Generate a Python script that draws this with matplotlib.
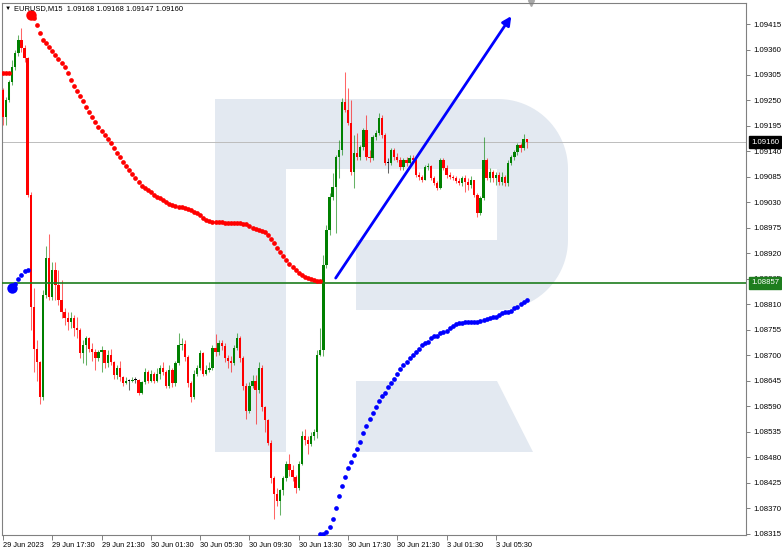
import numpy as np
import matplotlib
matplotlib.use("Agg")
import matplotlib.pyplot as plt
import matplotlib.transforms as mtransforms
from matplotlib.patches import Polygon

# ── data: EURUSD M15, one value per bar ─────────────────────────
open0 = 1.09273
closes = [
    1.09214, 1.09251, 1.09290, 1.09322, 1.09352, 1.09381, 1.09363, 1.09342, 1.09046, 1.08804,
    1.08715, 1.08685, 1.08610, 1.08830, 1.08910, 1.08826, 1.08884, 1.08851, 1.08819, 1.08793,
    1.08780, 1.08772, 1.08780, 1.08759, 1.08754, 1.08705, 1.08722, 1.08737, 1.08715, 1.08707,
    1.08694, 1.08707, 1.08711, 1.08683, 1.08700, 1.08685, 1.08657, 1.08672, 1.08653, 1.08640,
    1.08646, 1.08646, 1.08648, 1.08648, 1.08620, 1.08642, 1.08664, 1.08646, 1.08661, 1.08646,
    1.08661, 1.08674, 1.08664, 1.08635, 1.08668, 1.08640, 1.08683, 1.08722, 1.08724, 1.08696,
    1.08640, 1.08610, 1.08661, 1.08672, 1.08705, 1.08661, 1.08668, 1.08674, 1.08717, 1.08707,
    1.08726, 1.08720, 1.08694, 1.08689, 1.08683, 1.08717, 1.08737, 1.08694, 1.08635, 1.08581,
    1.08635, 1.08646, 1.08625, 1.08672, 1.08588, 1.08560, 1.08512, 1.08435, 1.08402, 1.08387,
    1.08409, 1.08435, 1.08467, 1.08452, 1.08437, 1.08415, 1.08467, 1.08527, 1.08517, 1.08510,
    1.08527, 1.08534, 1.08700, 1.08711, 1.08895, 1.08970, 1.09041, 1.09063, 1.09128, 1.09143,
    1.09247, 1.09229, 1.09201, 1.09095, 1.09137, 1.09128, 1.09149, 1.09186, 1.09128, 1.09126,
    1.09171, 1.09180, 1.09212, 1.09175, 1.09115, 1.09115, 1.09143, 1.09128, 1.09121, 1.09106,
    1.09121, 1.09115, 1.09126, 1.09121, 1.09089, 1.09085, 1.09078, 1.09106, 1.09108, 1.09082,
    1.09072, 1.09061, 1.09121, 1.09104, 1.09089, 1.09085, 1.09082, 1.09076, 1.09072, 1.09082,
    1.09074, 1.09067, 1.09078, 1.09046, 1.09007, 1.09039, 1.09121, 1.09082, 1.09095, 1.09082,
    1.09089, 1.09074, 1.09085, 1.09072, 1.09115, 1.09128, 1.09139, 1.09154, 1.09147, 1.09168,
    1.09160,
]
highs = [
    1.09277, 1.09257, 1.09294, 1.09337, 1.09359, 1.09391, 1.09406, 1.09370, 1.09344, 1.09052,
    1.08845, 1.08733, 1.08689, 1.08841, 1.08936, 1.08962, 1.08901, 1.08901, 1.08884, 1.08862,
    1.08802, 1.08793, 1.08793, 1.08787, 1.08784, 1.08759, 1.08733, 1.08743, 1.08739, 1.08726,
    1.08715, 1.08711, 1.08720, 1.08711, 1.08711, 1.08715, 1.08689, 1.08679, 1.08689, 1.08655,
    1.08653, 1.08650, 1.08653, 1.08653, 1.08650, 1.08646, 1.08672, 1.08668, 1.08668, 1.08664,
    1.08672, 1.08679, 1.08685, 1.08668, 1.08679, 1.08672, 1.08689, 1.08748, 1.08737, 1.08733,
    1.08700, 1.08646, 1.08668, 1.08679, 1.08711, 1.08707, 1.08679, 1.08685, 1.08722, 1.08746,
    1.08733, 1.08733, 1.08726, 1.08700, 1.08698, 1.08722, 1.08748, 1.08741, 1.08698, 1.08640,
    1.08642, 1.08657, 1.08657, 1.08685, 1.08679, 1.08592, 1.08564, 1.08517, 1.08441, 1.08415,
    1.08413, 1.08441, 1.08473, 1.08488, 1.08463, 1.08443, 1.08473, 1.08538, 1.08542, 1.08527,
    1.08534, 1.08542, 1.08711, 1.08759, 1.08916, 1.08981, 1.09050, 1.09093, 1.09132, 1.09165,
    1.09255, 1.09311, 1.09277, 1.09251, 1.09175, 1.09180, 1.09154, 1.09190, 1.09219, 1.09143,
    1.09175, 1.09186, 1.09223, 1.09219, 1.09180, 1.09126, 1.09147, 1.09147, 1.09137, 1.09128,
    1.09126, 1.09128, 1.09132, 1.09132, 1.09126, 1.09095, 1.09089, 1.09111, 1.09115, 1.09111,
    1.09087, 1.09076, 1.09126, 1.09126, 1.09111, 1.09095, 1.09089, 1.09087, 1.09082, 1.09087,
    1.09089, 1.09082, 1.09087, 1.09078, 1.09050, 1.09044, 1.09171, 1.09126, 1.09104, 1.09100,
    1.09095, 1.09095, 1.09095, 1.09089, 1.09121, 1.09132, 1.09143, 1.09158, 1.09158, 1.09178,
    1.09168,
]
lows = [
    1.09197, 1.09197, 1.09247, 1.09283, 1.09316, 1.09346, 1.09355, 1.09333, 1.09041, 1.08754,
    1.08664, 1.08646, 1.08596, 1.08603, 1.08823, 1.08819, 1.08819, 1.08819, 1.08808, 1.08780,
    1.08765, 1.08754, 1.08759, 1.08743, 1.08737, 1.08694, 1.08683, 1.08679, 1.08707, 1.08689,
    1.08668, 1.08689, 1.08664, 1.08672, 1.08676, 1.08679, 1.08650, 1.08650, 1.08646, 1.08635,
    1.08638, 1.08625, 1.08642, 1.08640, 1.08614, 1.08616, 1.08638, 1.08640, 1.08642, 1.08640,
    1.08642, 1.08650, 1.08657, 1.08629, 1.08629, 1.08633, 1.08635, 1.08679, 1.08711, 1.08689,
    1.08633, 1.08599, 1.08607, 1.08655, 1.08668, 1.08655, 1.08657, 1.08664, 1.08668, 1.08698,
    1.08702, 1.08711, 1.08685, 1.08672, 1.08664, 1.08679, 1.08711, 1.08685, 1.08625, 1.08564,
    1.08577, 1.08629, 1.08553, 1.08620, 1.08581, 1.08534, 1.08506, 1.08426, 1.08348, 1.08376,
    1.08355, 1.08398, 1.08430, 1.08441, 1.08430, 1.08404, 1.08409, 1.08463, 1.08506, 1.08488,
    1.08504, 1.08517, 1.08523, 1.08698, 1.08698, 1.08888, 1.08959, 1.09035, 1.08964, 1.09082,
    1.09132, 1.09225, 1.09197, 1.09089, 1.09061, 1.09121, 1.09121, 1.09143, 1.09121, 1.09117,
    1.09121, 1.09165, 1.09175, 1.09169, 1.09111, 1.09093, 1.09111, 1.09121, 1.09117, 1.09100,
    1.09100, 1.09108, 1.09111, 1.09115, 1.09085, 1.09078, 1.09074, 1.09078, 1.09100, 1.09078,
    1.09067, 1.09057, 1.09059, 1.09100, 1.09082, 1.09080, 1.09078, 1.09072, 1.09067, 1.09065,
    1.09052, 1.09057, 1.09061, 1.09041, 1.08998, 1.09003, 1.09035, 1.09078, 1.09074, 1.09074,
    1.09067, 1.09067, 1.09067, 1.09065, 1.09065, 1.09111, 1.09121, 1.09132, 1.09139, 1.09143,
    1.09147,
]

# indicator dots (red above price, blue below)
red_early = [1.09309, 1.09309, 1.09309]          # bars 0..2
red_start = 9
red_dots = [
    1.09435, 1.09428, 1.09413, 1.09396, 1.09381, 1.09374, 1.09365, 1.09357, 1.09348, 1.09340,
    1.09331, 1.09322, 1.09309, 1.09294, 1.09281, 1.09270, 1.09260, 1.09249, 1.09236, 1.09225,
    1.09214, 1.09203, 1.09193, 1.09184, 1.09175, 1.09167, 1.09158, 1.09147, 1.09137, 1.09128,
    1.09117, 1.09108, 1.09100, 1.09091, 1.09082, 1.09074, 1.09065, 1.09061, 1.09057, 1.09052,
    1.09046, 1.09041, 1.09039, 1.09035, 1.09031, 1.09026, 1.09024, 1.09022, 1.09020, 1.09020,
    1.09018, 1.09016, 1.09013, 1.09009, 1.09007, 1.09003, 1.08996, 1.08992, 1.08990, 1.08987,
    1.08987, 1.08987, 1.08987, 1.08985, 1.08985, 1.08985, 1.08985, 1.08985, 1.08985, 1.08983,
    1.08983, 1.08979, 1.08974, 1.08972, 1.08970, 1.08968, 1.08966, 1.08959, 1.08951, 1.08942,
    1.08931, 1.08923, 1.08914, 1.08905, 1.08897, 1.08890, 1.08884, 1.08877, 1.08873, 1.08869,
    1.08867, 1.08864, 1.08862, 1.08860, 1.08860,
]
blue_start_early = 3
blue_early = [1.08845, 1.08854, 1.08864, 1.08873, 1.08882, 1.08884]
blue_start = 103
blue_dots = [
    1.08314, 1.08316, 1.08320, 1.08331, 1.08348, 1.08370, 1.08396, 1.08419, 1.08437, 1.08458,
    1.08471, 1.08486, 1.08499, 1.08514, 1.08532, 1.08547, 1.08562, 1.08577, 1.08588, 1.08601,
    1.08612, 1.08620, 1.08631, 1.08640, 1.08650, 1.08661, 1.08670, 1.08679, 1.08685, 1.08694,
    1.08700, 1.08707, 1.08715, 1.08722, 1.08726, 1.08730, 1.08737, 1.08741, 1.08743, 1.08748,
    1.08750, 1.08752, 1.08759, 1.08763, 1.08767, 1.08769, 1.08769, 1.08772, 1.08772, 1.08772,
    1.08772, 1.08772, 1.08774, 1.08776, 1.08778, 1.08780, 1.08782, 1.08784, 1.08787, 1.08791,
    1.08793, 1.08793, 1.08795, 1.08802, 1.08804, 1.08810, 1.08815, 1.08819,
]

level_price = 1.08857
trend_start = (108, 1.08867)
trend_end = (165, 1.09432)

xtick_bars = [0, 16, 32, 48, 64, 80, 96, 112, 128, 144, 160]
xtick_labels = ["29 Jun 2023", "29 Jun 17:30", "29 Jun 21:30", "30 Jun 01:30", "30 Jun 05:30",
                "30 Jun 09:30", "30 Jun 13:30", "30 Jun 17:30", "30 Jun 21:30",
                "3 Jul 01:30", "3 Jul 05:30"]
yticks = [1.08315, 1.08370, 1.08425, 1.08480, 1.08535, 1.08590, 1.08645, 1.08700, 1.08755,
          1.08810, 1.08865, 1.08920, 1.08975, 1.09030, 1.09085, 1.09140, 1.09195, 1.09250,
          1.09305, 1.09360, 1.09415]

# ── colours ─────────────────────────────────────────────────────
BULL = "#008000"
BEAR = "#ff0000"
DOT_RED = "#ff0000"
DOT_BLUE = "#0000ff"
LEVEL = "#1e7d1e"
LOGO = "#e3e9f1"
FRAME = "#808080"

plt.rcParams["font.family"] = ["Liberation Sans", "DejaVu Sans"]

W, H = 782, 550
fig = plt.figure(figsize=(W / 100, H / 100), dpi=100, facecolor="white")

# watermark behind the chart (pixel coordinates)
bg = fig.add_axes([0, 0, 1, 1], zorder=-1)
bg.set_xlim(0, W)
bg.set_ylim(H, 0)
bg.axis("off")
t1 = np.linspace(-np.pi / 2, 0, 24)
t2 = np.linspace(0, np.pi / 2, 24)
r_pts = [(215, 99)]
r_pts += list(zip(498 + 70 * np.cos(t1), 169 + 70 * np.sin(t1)))
r_pts += list(zip(498 + 70 * np.cos(t2), 240 + 70 * np.sin(t2)))
r_pts += [(356, 310), (356, 240), (497, 240), (497, 169), (286, 169), (286, 452), (215, 452)]
bg.add_patch(Polygon(r_pts, closed=True, facecolor=LOGO, edgecolor="none"))
bg.add_patch(Polygon([(356, 381), (497, 381), (533, 452), (356, 452)], closed=True,
                     facecolor=LOGO, edgecolor="none"))
bg.plot(531, 2.5, marker="v", color="#a8a8a8", ms=5, clip_on=False)

ax = fig.add_axes([2 / W, 15 / H, 744 / W, 532 / H])
ax.set_facecolor("none")

x = np.arange(len(closes))
c = np.array(closes)
o = np.array([open0] + closes[:-1])
hi = np.array(highs)
lo = np.array(lows)
cols = np.where(c > o, BULL, np.where(c < o, BEAR, "#000000"))

ax.vlines(x, lo, hi, colors=cols, lw=0.75, alpha=0.6, zorder=2)
body = np.maximum(np.abs(c - o), 0.00002)
ax.bar(x, body, bottom=np.minimum(c, o), width=0.75, color=cols, linewidth=0, zorder=3)

# horizontal lines
ax.axhline(closes[-1], color="#bcbcbc", lw=0.7, zorder=1)
ax.axhline(level_price, color=LEVEL, lw=1.2, zorder=4)

# indicator dots
ax.plot(np.arange(len(red_early)), red_early, "o", color=DOT_RED, ms=3.4, mew=0, zorder=5)
rx = np.arange(red_start, red_start + len(red_dots))
ax.plot(rx, red_dots, "o", color=DOT_RED, ms=3.4, mew=0, zorder=5)
ax.plot(rx[0], red_dots[0], "o", color=DOT_RED, ms=7.5, mew=0, zorder=5)
bx0 = np.arange(blue_start_early, blue_start_early + len(blue_early))
ax.plot(bx0, blue_early, "o", color=DOT_BLUE, ms=3.4, mew=0, zorder=5)
ax.plot(bx0[0], blue_early[0], "o", color=DOT_BLUE, ms=7.5, mew=0, zorder=5)
bx = np.arange(blue_start, blue_start + len(blue_dots))
ax.plot(bx, blue_dots, "o", color=DOT_BLUE, ms=3.4, mew=0, zorder=5)

# trend arrow
ax.annotate("", xy=trend_end, xytext=trend_start,
            arrowprops=dict(arrowstyle="-|>", color=DOT_BLUE, lw=2.0,
                            mutation_scale=13, shrinkA=0, shrinkB=0), zorder=6)

# axes
ax.set_xlim(-0.32, 241.2)
ax.set_ylim(1.083128, 1.094603)
ax.yaxis.tick_right()
ax.set_yticks(yticks)
ax.set_yticklabels([f"{v:.5f}" for v in yticks])
ax.set_xticks(xtick_bars)
ax.set_xticklabels(xtick_labels)
for lab in ax.get_xticklabels():
    lab.set_horizontalalignment("left")
ax.tick_params(axis="y", direction="out", length=3, width=0.7, color=FRAME,
               labelsize=5.6, pad=2.5, labelcolor="black")
ax.tick_params(axis="x", direction="out", length=3.5, width=0.7, color=FRAME,
               labelsize=5.3, pad=1.5, labelcolor="black")
for sp in ax.spines.values():
    sp.set_color(FRAME)
    sp.set_linewidth(0.8)

# price tags on the right scale (they sit over the nearest scale labels, as in the terminal)
tr = mtransforms.blended_transform_factory(ax.transAxes, ax.transData)
ax.text(1.0 + 5 / 744, closes[-1], f"{closes[-1]:.5f}", transform=tr, fontsize=5.6,
        color="white", va="center", ha="left", zorder=10, clip_on=False,
        bbox=dict(boxstyle="square,pad=0.3", facecolor="black", edgecolor="black"))
ax.text(1.0 + 5 / 744, level_price, f"{level_price:.5f}", transform=tr, fontsize=5.6,
        color="white", va="center", ha="left", zorder=10, clip_on=False,
        bbox=dict(boxstyle="square,pad=0.3", facecolor=LEVEL, edgecolor=LEVEL))

# header
fig.text(5 / W, 1 - 8.5 / H, "▼", fontsize=4.5, va="center", ha="left", color="black")
fig.text(14 / W, 1 - 8.5 / H,
         f"EURUSD,M15  {o[-1]:.5f} {hi[-1]:.5f} {lo[-1]:.5f} {c[-1]:.5f}",
         fontsize=5.4, va="center", ha="left", color="black")

fig.savefig("out.png", dpi=100, facecolor="white")
